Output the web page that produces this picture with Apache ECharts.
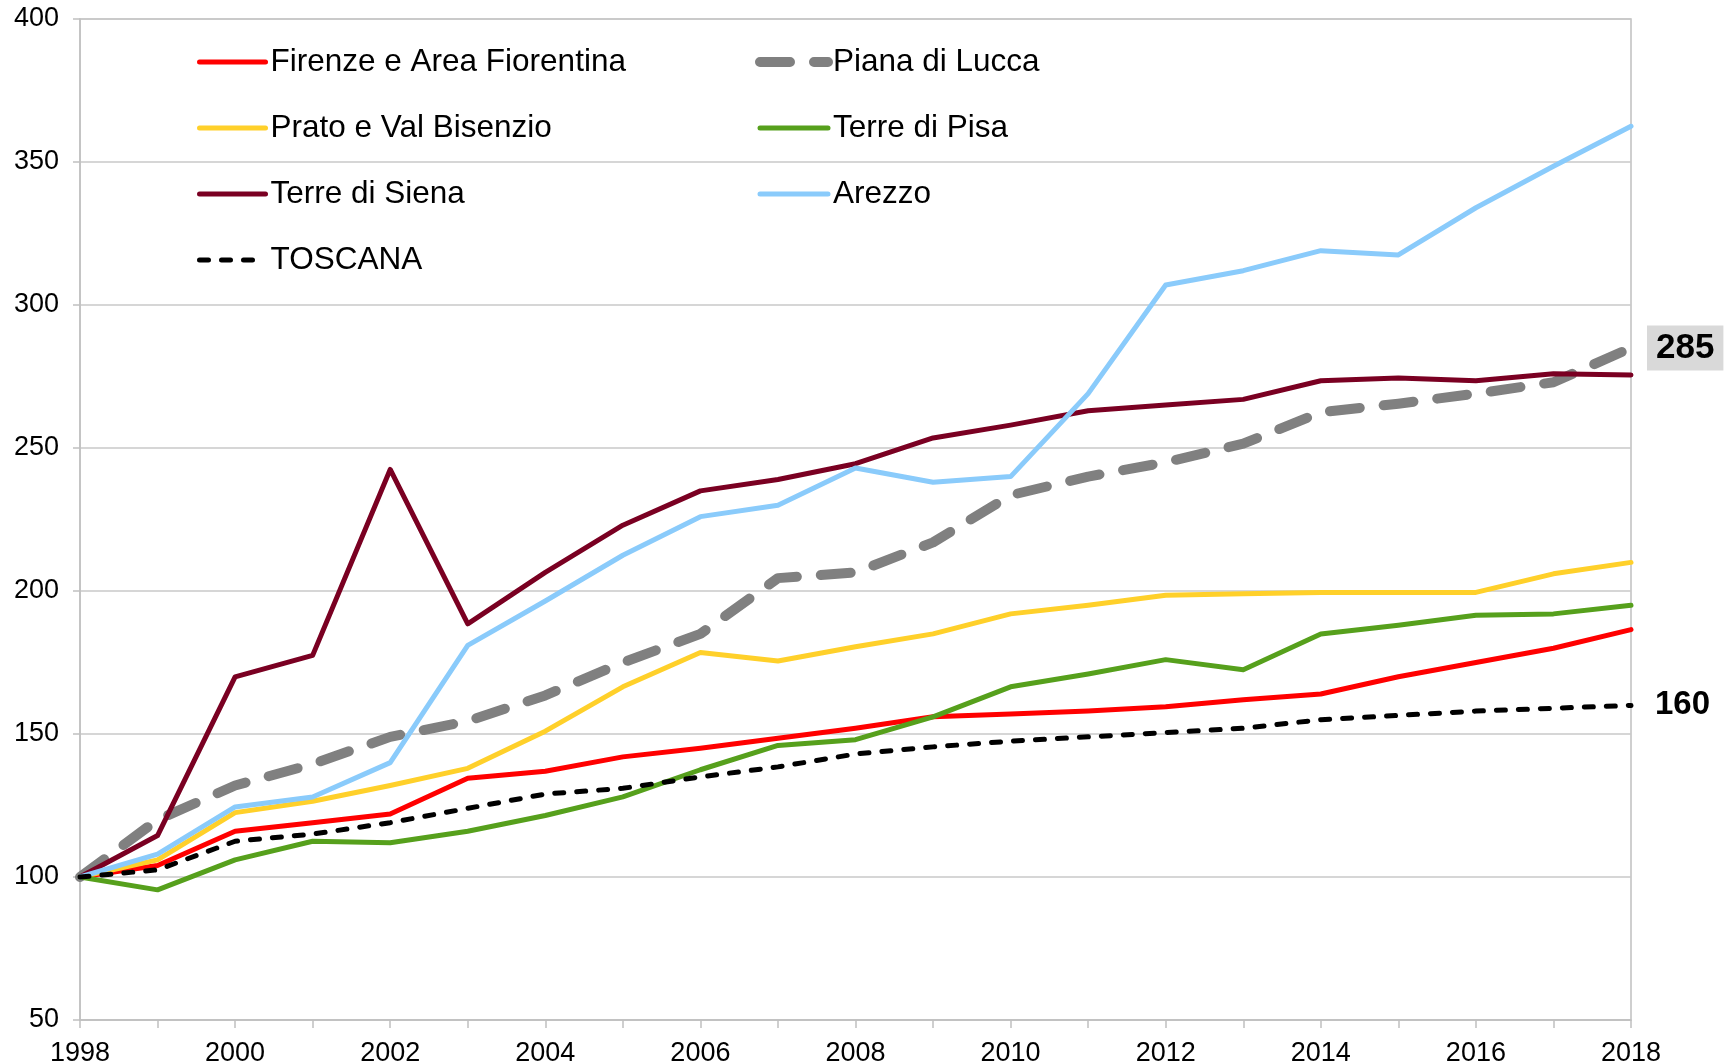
<!DOCTYPE html>
<html lang="it">
<head>
    <meta charset="UTF-8">
    <title>Indice 1998=100</title>
    <script src="https://cdn.jsdelivr.net/npm/echarts@6.0.0/dist/echarts.min.js"></script>
    <style>
        body { margin: 0; background: #fff; }
    </style>
</head>
<body>
    <div id="chart" style="width: 1727px;height: 1064px"></div>

    <script>
        // anni
        var years = ['1998','1999','2000','2001','2002','2003','2004','2005','2006','2007','2008',
                     '2009','2010','2011','2012','2013','2014','2015','2016','2017','2018'];

        // valori (indice 1998 = 100)
        var firenze = [100, 104, 116, 119, 122, 134.5, 137, 142, 145, 148.5, 152, 156, 157, 158, 159.5, 162, 164, 170, 175, 180, 186.5];
        var lucca   = [100, 120, 132, 139.5, 149, 154.5, 163.5, 175, 185, 204.5, 206.5, 217, 233.5, 240, 245, 251.5, 262.5, 265.5, 269, 273, 285];
        var prato   = [100, 106, 122.5, 126.5, 132, 138, 151, 166.5, 178.5, 175.5, 180.5, 185, 192, 195, 198.5, 199, 199.5, 199.5, 199.5, 206, 210];
        var pisa    = [100, 95.5, 106, 112.5, 112, 116, 121.5, 128, 137.5, 146, 148, 156, 166.5, 171, 176, 172.5, 185, 188, 191.5, 192, 195];
        var siena   = [100, 114.5, 170, 177.5, 242.5, 188.5, 206.5, 223, 235, 239, 244.5, 253.5, 258, 263, 265, 267, 273.5, 274.5, 273.5, 276, 275.5];
        var arezzo  = [100, 108, 124.5, 128, 140, 181, 196.5, 212.5, 226, 230, 243, 238, 240, 269, 307, 312, 319, 317.5, 334, 348.5, 362.5];
        var toscana = [100, 102.5, 112.5, 115, 119, 124, 129, 131, 135, 138.5, 143, 145.5, 147.5, 149, 150.5, 152, 155, 156.5, 158, 159, 160];

        var yTicks = [50, 100, 150, 200, 250, 300, 350, 400];

        var myChart = echarts.init(document.getElementById('chart'));

        var styles = {
            'Firenze e Area Fiorentina': { color: '#ff0000', width: 5 },
            'Piana di Lucca': { color: '#808080', width: 10, type: [30, 24] },
            'Prato e Val Bisenzio': { color: '#ffd02a', width: 5 },
            'Terre di Pisa': { color: '#56a01c', width: 5 },
            'Terre di Siena': { color: '#7a0022', width: 5 },
            'Arezzo': { color: '#8acbfb', width: 5 },
            'TOSCANA': { color: '#000000', width: 5, type: [9, 13] }
        };

        function lineStyleOf(name) {
            var s = styles[name];
            return { color: s.color, width: s.width, type: s.type || 'solid', cap: 'round', join: 'round' };
        }

        function serie(name, data) {
            return {
                name: name,
                type: 'line',
                data: data,
                symbol: 'none',
                lineStyle: lineStyleOf(name),
                itemStyle: { color: styles[name].color }
            };
        }

        function legendItems(names) {
            return names.map(function (n) {
                return { name: n, lineStyle: lineStyleOf(n), itemStyle: { opacity: 0 } };
            });
        }

        var sLucca = serie('Piana di Lucca', lucca);
        sLucca.endLabel = {
            show: true,
            formatter: '285',
            distance: 16,
            fontSize: 35,
            fontWeight: 'bold',
            color: '#000',
            fontFamily: 'Liberation Sans',
            backgroundColor: '#d9d9d9',
            padding: [5, 9]
        };

        var sToscana = serie('TOSCANA', toscana);
        sToscana.endLabel = {
            show: true,
            formatter: '160',
            distance: 24,
            fontSize: 33,
            fontWeight: 'bold',
            color: '#000',
            fontFamily: 'Liberation Sans'
        };

        var legendText = { fontSize: 31.5, color: '#000', fontFamily: 'Liberation Sans', lineHeight: 36 };

        var option = {
            animation: false,
            backgroundColor: '#fff',
            textStyle: { fontFamily: 'Liberation Sans' },
            grid: {
                left: 80, right: 96, top: 19, bottom: 44,
                outerBoundsMode: 'none',
                show: true, borderColor: '#c0c0c0', borderWidth: 1.5
            },
            legend: [
                {
                    data: legendItems(['Firenze e Area Fiorentina', 'Prato e Val Bisenzio', 'Terre di Siena', 'TOSCANA']),
                    orient: 'vertical', left: 192, top: 39,
                    itemWidth: 66, itemHeight: 14, itemGap: 30,
                    textStyle: legendText
                },
                {
                    data: legendItems(['Piana di Lucca', 'Terre di Pisa', 'Arezzo']),
                    orient: 'vertical', left: 750, top: 39,
                    itemWidth: 68, itemHeight: 14, itemGap: 30,
                    textStyle: legendText
                }
            ],
            xAxis: {
                type: 'category',
                data: years,
                boundaryGap: false,
                axisLine: { lineStyle: { color: '#c0c0c0', width: 1.5 } },
                axisTick: { show: true, interval: 0, length: 8, lineStyle: { color: '#c0c0c0', width: 1.5 } },
                axisLabel: { interval: 1, fontSize: 27, color: '#000', margin: 20 },
                splitLine: { show: false }
            },
            yAxis: {
                type: 'value',
                min: yTicks[0],
                max: yTicks[yTicks.length - 1],
                interval: 50,
                axisLine: { show: true, lineStyle: { color: '#c0c0c0', width: 1.5 } },
                axisTick: { show: true, length: 7, lineStyle: { color: '#c0c0c0', width: 1.5 } },
                axisLabel: { fontSize: 27, color: '#000', margin: 21 },
                splitLine: { lineStyle: { color: '#c8c8c8', width: 1.5 } }
            },
            series: [
                serie('Firenze e Area Fiorentina', firenze),
                sLucca,
                serie('Prato e Val Bisenzio', prato),
                serie('Terre di Pisa', pisa),
                serie('Terre di Siena', siena),
                serie('Arezzo', arezzo),
                sToscana
            ]
        };

        myChart.setOption(option);
    </script>
</body>
</html>
